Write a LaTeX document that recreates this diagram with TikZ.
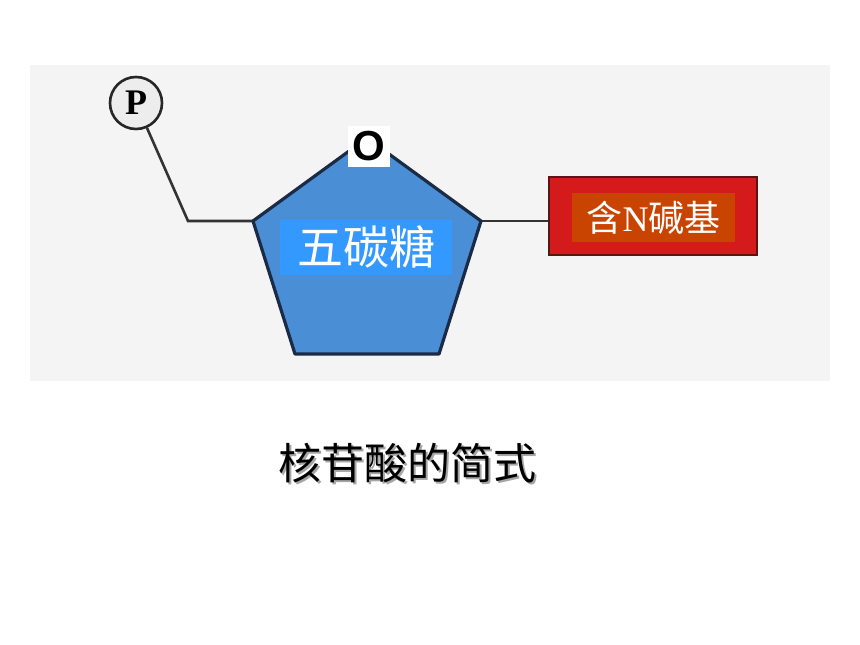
\documentclass[tikz,border=0pt]{standalone}
\usepackage{fontspec}
\newfontfamily\cjk{Noto Sans CJK SC}
\newfontfamily\lsans{Liberation Sans}
\newfontfamily\lserif{Liberation Serif}
\definecolor{bggray}{HTML}{F4F4F4}
\definecolor{pentfill}{HTML}{4A8ED6}
\definecolor{pentedge}{HTML}{1B2B45}
\definecolor{sugarbox}{HTML}{3399FF}
\definecolor{redout}{HTML}{D41A1A}
\definecolor{rededge}{HTML}{5A1414}
\definecolor{redin}{HTML}{C94400}
\tikzset{
  bond/.style={line width=2.6pt, draw=black!80},
  labelbox/.style={inner sep=0pt, text=white},
}
\begin{document}
\begin{tikzpicture}[x=1pt,y=-1pt]
\useasboundingbox (0,0) rectangle (860,645);
\fill[white] (0,0) rectangle (860,645);
\fill[bggray] (30,65) rectangle (830,381);
% pentagon vertices
\coordinate (vt) at (367,138);
\coordinate (vl) at (253,221);
\coordinate (vr) at (481,221);
\coordinate (vbl) at (295,354);
\coordinate (vbr) at (439,354);
\coordinate (bend) at (188,221);
% phosphate
\node[circle, draw=black!85, line width=2.6pt, fill=white!93!black, minimum size=52pt, inner sep=0pt, font=\lserif\fontsize{36}{36}\selectfont\bfseries] (p) at (136,103) {P};
% base
\node[draw=rededge, line width=2.8pt, fill=redout, minimum width=208pt, minimum height=78pt, inner sep=0pt] (base) at (653,216) {};
\node[labelbox, fill=redin, minimum width=163pt, minimum height=49pt] (baselab) at (653.5,217.5) {\cjk\fontsize{36}{36}\selectfont 含{\lserif N}碱基};
% connectors
\draw[bond] (p) -- (bend) -- (vl);
\draw[bond] (vr) -- (vr -| base.west);
% sugar
\draw[draw=pentedge, line width=3.2pt, fill=pentfill, line join=round] (vt) -- (vr) -- (vbr) -- (vbl) -- (vl) -- cycle;
\node[labelbox, fill=sugarbox, minimum width=172pt, minimum height=55pt] (sugar) at (366,247) {\cjk\fontsize{46}{46}\selectfont 五碳糖};
\node[labelbox, fill=white, text=black, minimum width=42pt, minimum height=41pt, font=\lsans\fontsize{42}{42}\selectfont\bfseries] (o) at (369,146.5) {O};
% caption
\node[text=black!35, font=\cjk\fontsize{43}{43}\selectfont] (capsh) at (409.5,465.5) {核苷酸的简式};
\node[text=black, font=\cjk\fontsize{43}{43}\selectfont] (cap) at (407.5,463.5) {核苷酸的简式};
\end{tikzpicture}
\end{document}
